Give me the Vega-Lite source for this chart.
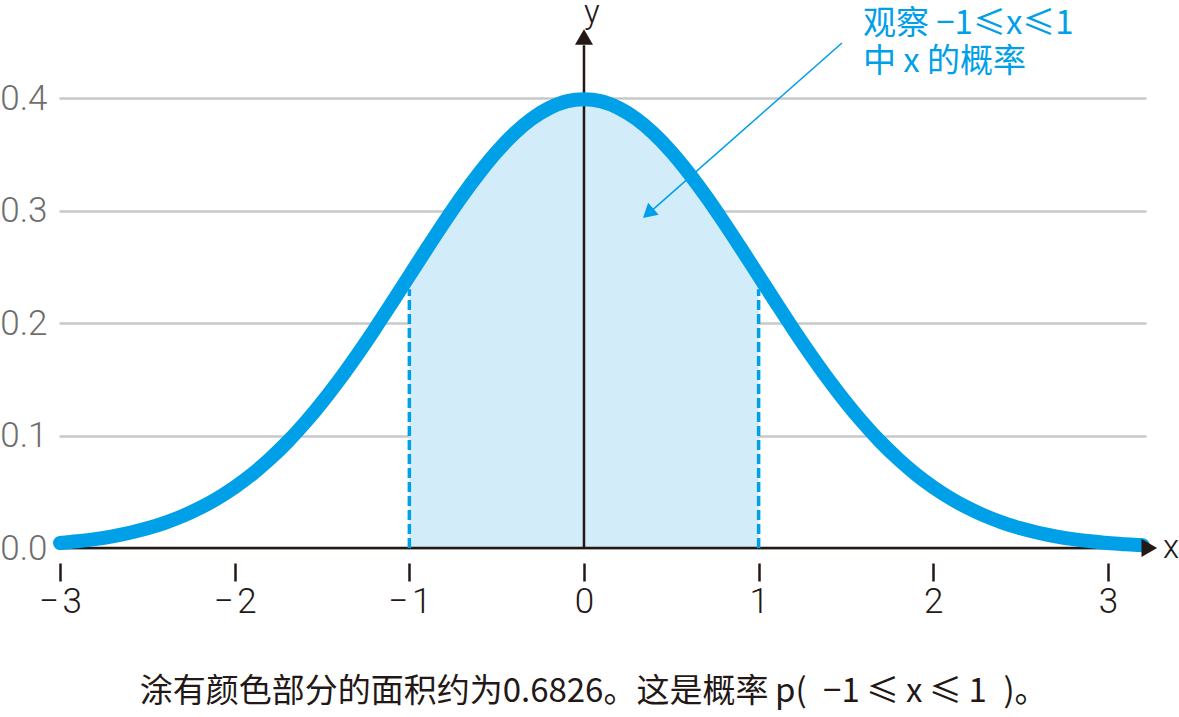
{
  "$schema": "https://vega.github.io/schema/vega-lite/v6.json",
  "width": 1087,
  "height": 513,
  "autosize": {"type": "none"},
  "padding": {"left": 59, "top": 35, "right": 33, "bottom": 169},
  "background": "#ffffff",
  "config": {"view": {"stroke": null}},
  "datasets": {
    "curve": [
      {"x": -3.0, "y": 0.0044}, {"x": -2.9, "y": 0.0060}, {"x": -2.8, "y": 0.0079}, {"x": -2.7, "y": 0.0104},
      {"x": -2.6, "y": 0.0136}, {"x": -2.5, "y": 0.0175}, {"x": -2.4, "y": 0.0224}, {"x": -2.3, "y": 0.0283},
      {"x": -2.2, "y": 0.0355}, {"x": -2.1, "y": 0.0440}, {"x": -2.0, "y": 0.0540}, {"x": -1.9, "y": 0.0656},
      {"x": -1.8, "y": 0.0790}, {"x": -1.7, "y": 0.0940}, {"x": -1.6, "y": 0.1109}, {"x": -1.5, "y": 0.1295},
      {"x": -1.4, "y": 0.1497}, {"x": -1.3, "y": 0.1714}, {"x": -1.2, "y": 0.1942}, {"x": -1.1, "y": 0.2179},
      {"x": -1.0, "y": 0.2420}, {"x": -0.9, "y": 0.2661}, {"x": -0.8, "y": 0.2897}, {"x": -0.7, "y": 0.3123},
      {"x": -0.6, "y": 0.3332}, {"x": -0.5, "y": 0.3521}, {"x": -0.4, "y": 0.3683}, {"x": -0.3, "y": 0.3814},
      {"x": -0.2, "y": 0.3910}, {"x": -0.1, "y": 0.3970}, {"x": 0.0, "y": 0.3989}, {"x": 0.1, "y": 0.3970},
      {"x": 0.2, "y": 0.3910}, {"x": 0.3, "y": 0.3814}, {"x": 0.4, "y": 0.3683}, {"x": 0.5, "y": 0.3521},
      {"x": 0.6, "y": 0.3332}, {"x": 0.7, "y": 0.3123}, {"x": 0.8, "y": 0.2897}, {"x": 0.9, "y": 0.2661},
      {"x": 1.0, "y": 0.2420}, {"x": 1.1, "y": 0.2179}, {"x": 1.2, "y": 0.1942}, {"x": 1.3, "y": 0.1714},
      {"x": 1.4, "y": 0.1497}, {"x": 1.5, "y": 0.1295}, {"x": 1.6, "y": 0.1109}, {"x": 1.7, "y": 0.0940},
      {"x": 1.8, "y": 0.0790}, {"x": 1.9, "y": 0.0656}, {"x": 2.0, "y": 0.0540}, {"x": 2.1, "y": 0.0440},
      {"x": 2.2, "y": 0.0355}, {"x": 2.3, "y": 0.0283}, {"x": 2.4, "y": 0.0224}, {"x": 2.5, "y": 0.0175},
      {"x": 2.6, "y": 0.0136}, {"x": 2.7, "y": 0.0104}, {"x": 2.8, "y": 0.0079}, {"x": 2.9, "y": 0.0060},
      {"x": 3.0, "y": 0.0044}, {"x": 3.1, "y": 0.0033}, {"x": 3.2, "y": 0.0024}
    ]
  },
  "layer": [
    {
      "data": {"name": "curve"},
      "transform": [{"filter": "datum.x >= -1 && datum.x <= 1"}],
      "mark": {"type": "area", "color": "#d3ecf9", "interpolate": "monotone"},
      "encoding": {
        "x": {
          "field": "x", "type": "quantitative",
          "scale": {"domain": [-3.006, 3.218], "nice": false, "zero": false},
          "axis": {
            "title": null, "values": [-3, -2, -1, 0, 1, 2, 3], "format": "d",
            "labelExpr": "replace(datum.label, '−', '−\u200a')",
            "domain": false, "grid": false, "offset": 15,
            "ticks": true, "tickSize": 18, "tickWidth": 2.5, "tickColor": "#231815",
            "labelFont": "Roboto", "labelFontWeight": 300, "labelFontSize": 35, "labelColor": "#231815",
            "labelPadding": 3, "labelFlush": false
          }
        },
        "y": {
          "field": "y", "type": "quantitative",
          "scale": {"domain": [0, 0.456], "nice": false},
          "axis": {
            "title": null, "values": [0, 0.1, 0.2, 0.3, 0.4], "format": ".1f",
            "domain": false, "ticks": false, "grid": true, "gridColor": "#c8c8c8", "gridWidth": 2.5,
            "labelFont": "Roboto", "labelFontWeight": 300, "labelFontSize": 35, "labelColor": "#6e6e6e",
            "labelPadding": 12, "labelFlush": false
          }
        }
      }
    },
    {
      "data": {"values": [{"x": 0, "y": 0, "y2": 0.447}]},
      "mark": {"type": "rule", "color": "#231815", "strokeWidth": 2.5},
      "encoding": {
        "x": {"field": "x", "type": "quantitative"},
        "y": {"field": "y", "type": "quantitative"},
        "y2": {"field": "y2"}
      }
    },
    {
      "data": {"values": [{"x": -3.006, "x2": 3.22, "y": 0}]},
      "mark": {"type": "rule", "color": "#231815", "strokeWidth": 2.5},
      "encoding": {
        "x": {"field": "x", "type": "quantitative"},
        "x2": {"field": "x2"},
        "y": {"field": "y", "type": "quantitative"}
      }
    },
    {
      "data": {"values": [{"x": -1, "y": 0, "y2": 0.23}, {"x": 1, "y": 0, "y2": 0.23}]},
      "mark": {"type": "rule", "color": "#00a0e9", "strokeWidth": 3.5, "strokeDash": [10, 4]},
      "encoding": {
        "x": {"field": "x", "type": "quantitative"},
        "y": {"field": "y", "type": "quantitative"},
        "y2": {"field": "y2"}
      }
    },
    {
      "data": {"name": "curve"},
      "mark": {"type": "line", "color": "#00a0e9", "strokeWidth": 14, "strokeCap": "round", "strokeJoin": "round", "interpolate": "monotone"},
      "encoding": {
        "x": {"field": "x", "type": "quantitative"},
        "y": {"field": "y", "type": "quantitative"}
      }
    },
    {
      "data": {"values": [{"x": 3.237, "y": 0, "shape": "triangle-right"}, {"x": 0, "y": 0.4542, "shape": "triangle-up"}]},
      "mark": {"type": "point", "filled": true, "size": 324, "opacity": 1, "color": "#231815"},
      "encoding": {
        "x": {"field": "x", "type": "quantitative"},
        "y": {"field": "y", "type": "quantitative"},
        "shape": {"field": "shape", "type": "nominal", "scale": null}
      }
    },
    {
      "data": {"values": [{"x": 1.477, "y": 0.4489, "x2": 0.37, "y2": 0.2974}]},
      "mark": {"type": "rule", "color": "#00a0e9", "strokeWidth": 1.6},
      "encoding": {
        "x": {"field": "x", "type": "quantitative"},
        "y": {"field": "y", "type": "quantitative"},
        "x2": {"field": "x2"},
        "y2": {"field": "y2"}
      }
    },
    {
      "data": {"values": [{"x": 0.3676, "y": 0.2974}]},
      "mark": {"type": "point", "shape": "triangle-up", "filled": true, "size": 256, "opacity": 1, "color": "#00a0e9", "angle": 228.7},
      "encoding": {
        "x": {"field": "x", "type": "quantitative"},
        "y": {"field": "y", "type": "quantitative"}
      }
    },
    {
      "data": {"values": [{"x": 1.597, "y": 0.4660, "t": "观察 −1≤x≤1"}, {"x": 1.597, "y": 0.4320, "t": "中 x 的概率"}]},
      "mark": {"type": "text", "align": "left", "baseline": "middle", "font": "Noto Sans CJK SC", "fontSize": 33, "color": "#00a0e9"},
      "encoding": {
        "x": {"field": "x", "type": "quantitative"},
        "y": {"field": "y", "type": "quantitative"},
        "text": {"field": "t"}
      }
    },
    {
      "data": {"values": [{"x": 3.315, "y": 0.0, "t": "x", "a": "left"}, {"x": 0.0, "y": 0.476, "t": "y", "a": "center"}]},
      "mark": {"type": "text", "align": "left", "baseline": "middle", "font": "Roboto", "fontWeight": 300, "fontSize": 33, "color": "#231815"},
      "encoding": {
        "x": {"field": "x", "type": "quantitative"},
        "y": {"field": "y", "type": "quantitative"},
        "text": {"field": "t"},
        "align": {"field": "a", "type": "nominal", "scale": null}
      }
    },
    {
      "data": {"values": [{"x": 0.055, "y": -0.128, "t": "涂有颜色部分的面积约为0.6826。这是概率\u2009p(\u2002−1\u2009≤\u2009x\u2009≤\u20091\u2002)。"}]},
      "mark": {"type": "text", "align": "center", "baseline": "middle", "font": "Noto Sans CJK SC", "fontSize": 33, "color": "#231815"},
      "encoding": {
        "x": {"field": "x", "type": "quantitative"},
        "y": {"field": "y", "type": "quantitative"},
        "text": {"field": "t"}
      }
    }
  ]
}
